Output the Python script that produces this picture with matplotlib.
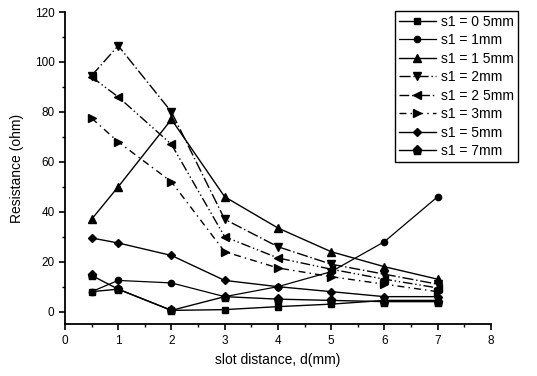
import numpy as np
import matplotlib
matplotlib.use("Agg")
import matplotlib.pyplot as plt
from matplotlib.ticker import MultipleLocator

plt.rcParams['font.family'] = ['Liberation Sans', 'DejaVu Sans']

# slot distance d (mm)
d = [0.5, 1, 2, 3, 4, 5, 6, 7]

# resistance (ohm) for each s1
r_05 = [8, 9, 0.5, 0.8, 2, 3, 4.5, 4.5]
r_1 = [8, 12.5, 11.5, 6, 10, 16, 28, 46]
r_15 = [37, 50, 77, 46, 33.5, 24, 18, 13]
r_2 = [94.5, 106.5, 80, 37, 26, 19, 15, 11]
r_25 = [94, 86, 67, 30, 21.5, 17, 13, 9.5]
r_3 = [77.5, 68, 52, 24, 17.5, 14, 11, 8]
r_5 = [29.5, 27.5, 22.5, 12.5, 10, 8, 6, 6]
r_7 = [14.5, 9, 0.5, 6, 5, 4.5, 4, 4]

labels = ["s1 = 0 5mm", "s1 = 1mm", "s1 = 1 5mm", "s1 = 2mm",
          "s1 = 2 5mm", "s1 = 3mm", "s1 = 5mm", "s1 = 7mm"]

fig = plt.figure(figsize=(5.37, 3.76), dpi=100)
ax = fig.add_axes([0.121, 0.138, 0.793, 0.830])

ax.plot(d, r_05, '-s', color='k', ms=4.5, lw=1, label=labels[0])
ax.plot(d, r_1, '-o', color='k', ms=4.5, lw=0.9, label=labels[1])
ax.plot(d, r_15, '-^', color='k', ms=6, lw=1, label=labels[2])
ax.plot(d, r_2, 'v', color='k', ms=6, lw=1, ls=(0, (8, 2, 1, 2)), label=labels[3])
ax.plot(d, r_25, '<', color='k', ms=6, lw=1, ls=(0, (7, 2, 1, 2, 1, 2)), label=labels[4])
ax.plot(d, r_3, '>', color='k', ms=6, lw=1, ls=(0, (5, 3, 1, 3)), label=labels[5])
ax.plot(d, r_5, '-D', color='k', ms=4.5, lw=1, label=labels[6])
ax.plot(d, r_7, '-p', color='k', ms=6.5, lw=1, label=labels[7])

ax.set_xlim(0, 8)
ax.set_ylim(-5, 120)
ax.xaxis.set_major_locator(MultipleLocator(1))
ax.xaxis.set_minor_locator(MultipleLocator(0.5))
ax.yaxis.set_minor_locator(MultipleLocator(10))
ax.set_yticks(np.arange(0, 121, 20))
ax.spines['top'].set_visible(False)
ax.spines['right'].set_visible(False)
for s in ['left', 'bottom']:
    ax.spines[s].set_linewidth(1.3)
ax.tick_params(which='major', direction='out', length=4, width=1.2, labelsize=8.5)
ax.tick_params(which='minor', direction='out', length=2.5, width=1)

ax.set_xlabel("slot distance, d(mm)", fontsize=10, labelpad=5)
ax.set_ylabel("Resistance (ohm)", fontsize=10, labelpad=8)

leg = fig.legend(loc='upper right', bbox_to_anchor=(0.978, 0.99), fontsize=10,
                 handlelength=2.6, labelspacing=0.32, borderpad=0.3,
                 handletextpad=0.4, fancybox=False, framealpha=1)
leg.get_frame().set_edgecolor('k')
leg.get_frame().set_linewidth(1)

fig.savefig("out.png", dpi=100)
